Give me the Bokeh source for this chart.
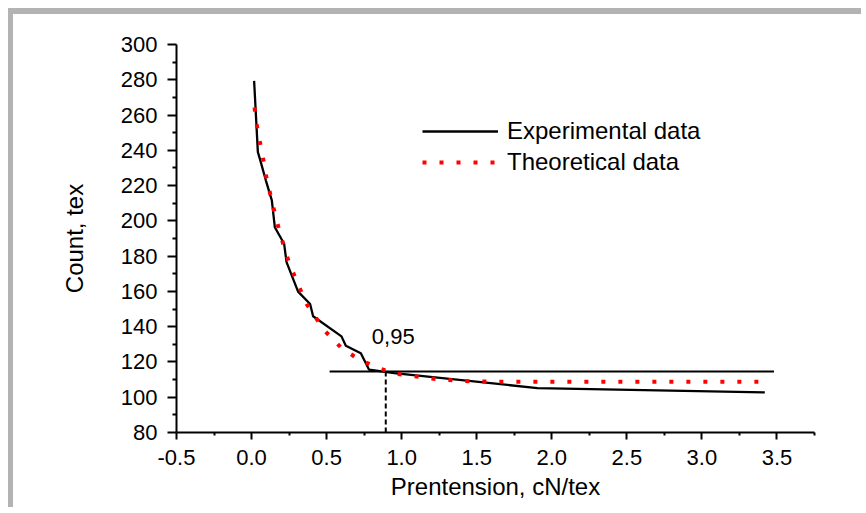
from bokeh.plotting import figure
from bokeh.models import Range1d, FixedTicker, PrintfTickFormatter, Legend, LegendItem
from bokeh.core.properties import value
from bokeh.embed import file_html
from bokeh.resources import INLINE

# Experimental data (solid black)
exp_x = [0.017, 0.042, 0.055, 0.095, 0.135, 0.155, 0.186, 0.217, 0.233, 0.310, 0.390,
         0.410, 0.599, 0.628, 0.728, 0.783, 0.95, 1.904, 3.419]
exp_y = [279.4, 239.0, 235.3, 223.0, 211.6, 196.4, 191.7, 187.0, 176.6, 159.9, 152.9,
         145.9, 134.5, 129.2, 124.9, 115.6, 113.7, 105.2, 102.7]

# Theoretical data (red dotted)
theo_x = [0.020, 0.033, 0.053, 0.075, 0.100, 0.135, 0.162, 0.190, 0.250, 0.295, 0.366,
          0.486, 0.601, 0.719, 0.834, 0.949, 1.065, 1.183, 1.298, 1.45, 1.7, 2.0, 2.5, 3.0, 3.38]
theo_y = [264.3, 255.2, 245.9, 236.4, 224.0, 211.4, 201.8, 192.7, 176.2, 166.9, 152.9,
          137.8, 127.7, 121.3, 116.9, 113.5, 112.2, 110.7, 109.8, 109.0, 108.8, 108.8, 108.8, 108.8, 108.8]

# Reference lines
hline_x = [0.52, 3.48]
hline_y = [114.6, 114.6]
vline_x = [0.894, 0.894]
vline_y = [80, 114.6]
annot_x = [0.944]
annot_y = [134.5]
annot_text = ["0,95"]

x_ticks = [-0.5, 0.0, 0.5, 1.0, 1.5, 2.0, 2.5, 3.0, 3.5]
y_ticks = [80, 100, 120, 140, 160, 180, 200, 220, 240, 260, 280, 300]

FONT = "Liberation Sans"

p = figure(width=853, height=499, output_backend="svg", toolbar_location=None,
           x_range=Range1d(-0.5, 3.75), y_range=Range1d(80, 300),
           min_border_left=163, min_border_right=52, min_border_top=30, min_border_bottom=81)
p.styles = {"margin-top": "8px", "margin-left": "8px",
            "border-top": "6px solid #b3b3b3", "border-left": "5px solid #b3b3b3"}
p.outline_line_color = None
p.xgrid.visible = False
p.ygrid.visible = False

for ax in (p.xaxis[0], p.yaxis[0]):
    ax.axis_line_width = 2
    ax.major_tick_line_width = 2
    ax.minor_tick_line_width = 2
    ax.major_tick_in = 0
    ax.minor_tick_in = 0
    ax.major_label_text_font = FONT
    ax.major_label_text_font_size = "22px"
    ax.major_label_text_color = "black"
    ax.axis_label_text_font = FONT
    ax.axis_label_text_font_size = "24px"
    ax.axis_label_text_font_style = "normal"
    ax.axis_label_text_color = "black"

p.xaxis[0].ticker = FixedTicker(ticks=x_ticks, minor_ticks=[-0.25 + 0.5 * i for i in range(9)])
p.xaxis[0].formatter = PrintfTickFormatter(format="%.1f")
p.xaxis[0].major_tick_out = 7
p.xaxis[0].minor_tick_out = 3
p.xaxis[0].major_label_standoff = 10
p.xaxis[0].axis_label = "Prentension, cN/tex"
p.xaxis[0].axis_label_standoff = 5

p.yaxis[0].ticker = FixedTicker(ticks=y_ticks, minor_ticks=[90 + 20 * i for i in range(11)])
p.yaxis[0].major_tick_out = 9
p.yaxis[0].minor_tick_out = 4
p.yaxis[0].major_label_standoff = 10
p.yaxis[0].axis_label = "Count, tex"
p.yaxis[0].axis_label_standoff = 30

p.line(hline_x, hline_y, line_color="black", line_width=2)
p.line(vline_x, vline_y, line_color="black", line_width=2, line_dash="5 3")
r_exp = p.line(exp_x, exp_y, line_color="black", line_width=2.3)
r_theo = p.line(theo_x, theo_y, line_color="#ff0000", line_width=4, line_dash="4 13")

p.text(annot_x, annot_y, text=annot_text, text_align="center", text_baseline="alphabetic",
       text_font=value(FONT), text_font_size="22px", text_color="black")

legend = Legend(items=[LegendItem(label="Experimental data", renderers=[r_exp]),
                       LegendItem(label="Theoretical data", renderers=[r_theo])],
                location=(246, 256))
legend.glyph_width = 76
legend.glyph_height = 26
legend.label_height = 26
legend.spacing = 3
legend.padding = 0
legend.margin = 0
legend.label_standoff = 9
legend.border_line_color = None
legend.background_fill_alpha = 0
legend.label_text_font = FONT
legend.label_text_font_size = "24px"
legend.label_text_color = "black"
p.add_layout(legend)

open("out.html", "w").write(file_html(p, INLINE))
